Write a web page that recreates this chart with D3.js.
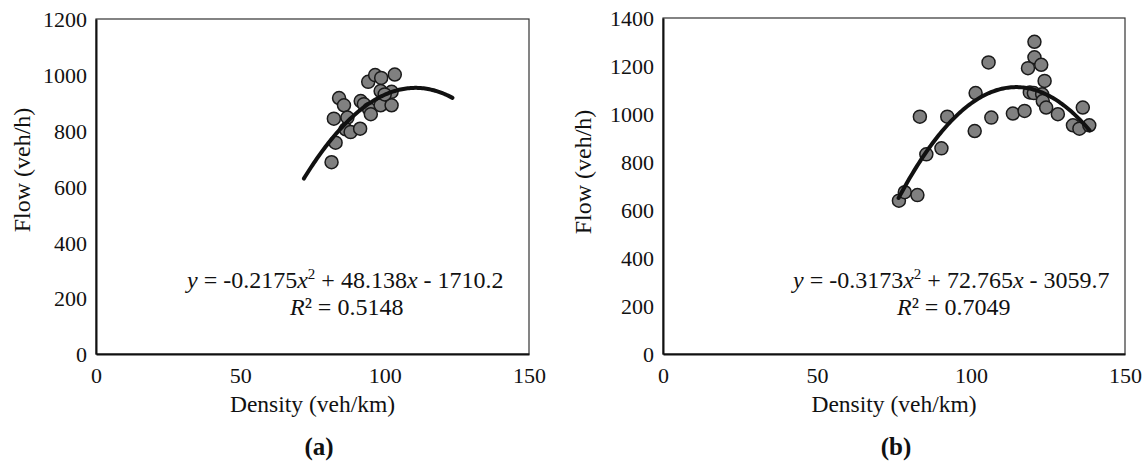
<!DOCTYPE html>
<html>
<head>
<meta charset="utf-8">
<script src="https://cdn.jsdelivr.net/npm/d3@7"></script>
<style>
  text, tspan { font-family: 'Liberation Serif' !important; }
</style>
</head>
<body style="margin:0;background:#fff">
<div id="chart"></div>
<script>
// data
var densityA = [81.6, 83.0, 82.4, 84.2, 85.9, 87.1, 86.5, 88.2, 91.5, 91.7, 92.8, 94.6, 95.2, 94.3, 96.7, 98.8, 103.5, 98.6, 102.4, 98.6, 102.4, 100.0];
var flowA    = [687, 757, 843, 917, 891, 847, 805, 795, 807, 906, 895, 877, 859, 975, 999, 989, 1001, 942, 939, 891, 891, 930];

var densityB = [76.6, 78.5, 82.6, 85.5, 90.4, 83.4, 92.3, 101.2, 106.6, 101.5, 105.7, 113.6, 117.4, 120.6, 120.6, 122.8, 118.5, 123.9, 119.1, 120.4, 123.1, 123.3, 124.4, 128.2, 136.3, 133.1, 135.2, 138.4];
var flowB    = [639, 674, 662, 832, 857, 989, 989, 929, 985, 1087, 1215, 1002, 1013, 1301, 1236, 1205, 1191, 1138, 1090, 1087, 1082, 1054, 1027, 999, 1027, 953, 939, 953];

// trendline coefficients (y = a x^2 + b x + c) and drawn x range
var fitA = [-0.2175, 48.138, -1710.2], rangeA = [72, 123.5];
var fitB = [-0.3173, 72.765, -3059.7], rangeB = [76.5, 138.5];

var xTicks = [0, 50, 100, 150];
var yTicksA = [0, 200, 400, 600, 800, 1000, 1200];
var yTicksB = [0, 200, 400, 600, 800, 1000, 1200, 1400];

var W = 1145, H = 465;
var svg = d3.select("#chart").append("svg")
    .attr("width", W)
    .attr("height", H)
    .attr("font-family", "Liberation Serif");

function panel(opt){
    var x = d3.scaleLinear().domain([0, 150]).range([opt.left, opt.right]);
    var y = d3.scaleLinear().domain([0, d3.max(opt.yTicks)]).range([opt.bottom, opt.top]);
    var g = svg.append("g");

    // plot area border
    g.append("rect")
        .attr("x", opt.left).attr("y", opt.top)
        .attr("width", opt.right - opt.left).attr("height", opt.bottom - opt.top)
        .attr("fill", "none").attr("stroke", "#333").attr("stroke-width", 1.2);

    // axes
    var xa = g.append("g")
        .attr("transform", "translate(0," + opt.bottom + ")")
        .call(d3.axisBottom(x).tickValues(xTicks).tickSize(0).tickPadding(12).tickFormat(d3.format("d")));
    var ya = g.append("g")
        .attr("transform", "translate(" + opt.left + ",0)")
        .call(d3.axisLeft(y).tickValues(opt.yTicks).tickSize(0).tickPadding(9).tickFormat(d3.format("d")));
    [xa, ya].forEach(function(a){
        a.attr("font-family", "Liberation Serif").attr("font-size", 22);
        a.select(".domain").attr("stroke", "#111").attr("stroke-width", 2);
        a.selectAll("text").attr("fill", "#111");
    });
    xa.selectAll("text").attr("dy", "0.75em");
    ya.selectAll("text").attr("dy", "0.35em");

    // points
    var pts = opt.dens.map(function(d, i){ return [d, opt.flow[i]]; });
    g.selectAll(".pt")
        .data(pts)
        .enter().append("circle")
        .attr("class", "pt")
        .attr("cx", function(d){ return x(d[0]); })
        .attr("cy", function(d){ return y(d[1]); })
        .attr("r", 6.5)
        .attr("fill", "#808080")
        .attr("stroke", "#1a1a1a")
        .attr("stroke-width", 1.5);

    // polynomial trendline from the printed equation
    var c = opt.fit;
    var xs = d3.range(opt.range[0], opt.range[1] + 0.01, 0.5);
    g.append("path")
        .datum(xs)
        .attr("fill", "none")
        .attr("stroke", "#111")
        .attr("stroke-width", 4)
        .attr("stroke-linecap", "round")
        .attr("d", d3.line()
            .x(function(d){ return x(d); })
            .y(function(d){ return y(c[0]*d*d + c[1]*d + c[2]); }));

    // axis titles
    g.append("text")
        .attr("x", (opt.left + opt.right) / 2).attr("y", 412)
        .attr("text-anchor", "middle").attr("font-size", 23.5).attr("fill", "#111")
        .text("Density (veh/km)");
    g.append("text")
        .attr("transform", "translate(" + opt.ytx + "," + opt.yty + ") rotate(-90)")
        .attr("text-anchor", "middle").attr("dy", "0.35em").attr("font-size", 24).attr("fill", "#111")
        .text("Flow (veh/h)");

    // equation
    var eq = g.append("text")
        .attr("x", opt.eqX).attr("y", 288)
        .attr("font-size", 24).attr("fill", "#111");
    eq.append("tspan").attr("font-style", "italic").text("y");
    eq.append("tspan").text(" = " + c[0] + "");
    eq.append("tspan").attr("font-style", "italic").text("x");
    eq.append("tspan").attr("font-size", 15).attr("dy", -9).text("2");
    eq.append("tspan").attr("dy", 9).text(" + " + c[1]);
    eq.append("tspan").attr("font-style", "italic").text("x");
    eq.append("tspan").text(" - " + (-c[2]));

    var r2 = g.append("text")
        .attr("x", opt.r2X).attr("y", 315)
        .attr("font-size", 24).attr("fill", "#111");
    r2.append("tspan").attr("font-style", "italic").text("R");
    r2.append("tspan").text("² = " + opt.r2);

    // panel label
    g.append("text")
        .attr("x", opt.labX).attr("y", 455)
        .attr("text-anchor", "middle").attr("font-size", 25).attr("font-weight", "bold").attr("fill", "#111")
        .text(opt.label);
}

panel({left: 96, right: 529, top: 19, bottom: 354, yTicks: yTicksA,
       dens: densityA, flow: flowA, fit: fitA, range: rangeA,
       ytx: 22, yty: 170, eqX: 187, r2X: 290, r2: "0.5148", labX: 319, label: "(a)"});
panel({left: 663, right: 1125, top: 18, bottom: 354, yTicks: yTicksB,
       dens: densityB, flow: flowB, fit: fitB, range: rangeB,
       ytx: 583, yty: 172, eqX: 793, r2X: 897, r2: "0.7049", labX: 896, label: "(b)"});

svg.selectAll("text").attr("font-family", "Liberation Serif").style("font-family", "'Liberation Serif'");
</script>
</body>
</html>
